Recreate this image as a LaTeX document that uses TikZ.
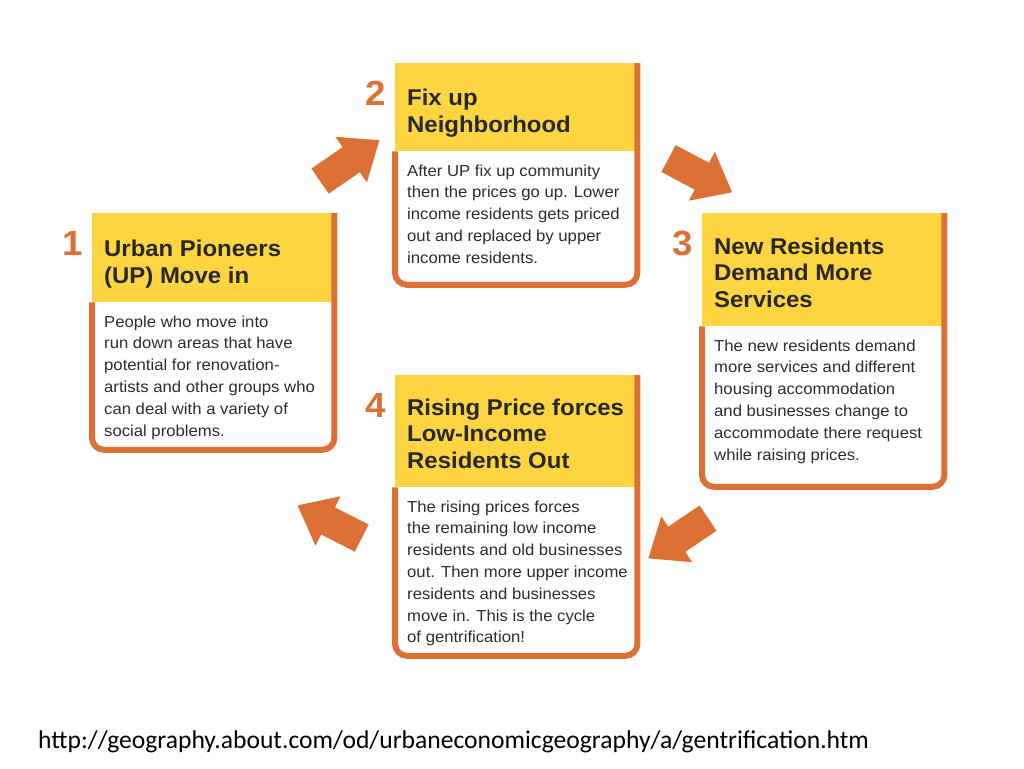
\documentclass[tikz,border=0pt]{standalone}
\usepackage{fontspec}
\setmainfont{Liberation Sans}[FakeStretch=1.05]
\newfontfamily\srcfont{Carlito}
\usepackage{tikz}
\usetikzlibrary{shapes.arrows, positioning}

\definecolor{boxorange}{RGB}{221,112,52}
\definecolor{headyellow}{RGB}{253,213,64}
\definecolor{darktext}{RGB}{40,40,40}
\definecolor{bodytext}{RGB}{45,45,45}

\begin{document}
\begin{tikzpicture}[
        x=1pt, y=-1pt,
        head/.style={
          rectangle,
          fill=headyellow,
          minimum width=242pt,
          inner sep=0pt,
          anchor=north west
        },
        body/.style={
          rectangle,
          minimum width=242pt,
          inner sep=0pt
        },
        title/.style={
          align=left,
          inner sep=0pt,
          text depth=0pt,
          text=darktext,
          font=\fontsize{22.8}{26.5}\selectfont\bfseries
        },
        desc/.style={
          align=left,
          inner sep=0pt,
          text=bodytext,
          font=\fontsize{15.9}{21.8}\selectfont
        },
        num/.style={inner sep=0pt, text=boxorange, font=\fontsize{35}{35}\selectfont\bfseries},
        frame/.style={draw=boxorange, line width=6pt, rounded corners=12pt},
        bigarrow/.style={
          single arrow,
          fill=boxorange,
          inner xsep=0pt,
          inner ysep=15pt,
          minimum height=72pt,
          single arrow head extend=12.5pt,
          single arrow tip angle=78
        }
    ]
    \useasboundingbox (0,0) rectangle (1024,768);

    % Define the boxes
    \node[head, minimum height=89pt] (h1) at (92,213) {};
    \node[body, minimum height=147pt, below=0pt of h1] (b1) {};
    \node[head, minimum height=88pt] (h2) at (395,63) {};
    \node[body, minimum height=133pt, below=0pt of h2] (b2) {};
    \node[head, minimum height=113pt] (h3) at (702,213) {};
    \node[body, minimum height=160pt, below=0pt of h3] (b3) {};
    \node[head, minimum height=112pt] (h4) at (395,375) {};
    \node[body, minimum height=168pt, below=0pt of h4] (b4) {};

    % Orange frames
    \foreach \i in {1,...,4}
      \draw[frame] (h\i.north east) -- (b\i.south east) -- (b\i.south west) -- (b\i.north west);

    % Step numbers
    \foreach \i in {1,...,4}
      \node[num, below left=18pt and 9pt of h\i.north west] (n\i) {\i};

    % Titles
    \node[title, above right=19pt and 12pt of h1.south west] (t1) {Urban Pioneers\\(UP) Move in};
    \node[title, above right=19pt and 12pt of h2.south west] (t2) {Fix up\\Neighborhood};
    \node[title, above right=19pt and 12pt of h3.south west] (t3) {New Residents\\Demand More\\Services};
    \node[title, above right=19pt and 12pt of h4.south west] (t4) {Rising Price forces\\Low-Income\\Residents Out};

    % Descriptions
    \node[desc, below right=13pt and 12pt of b1.north west] (d1) {People who move into\\run down areas that have\\potential for renovation-\\artists and other groups who\\can deal with a variety of\\social problems.};
    \node[desc, below right=13pt and 12pt of b2.north west] (d2) {After UP fix up community\\then the prices go up. Lower\\income residents gets priced\\out and replaced by upper\\income residents.};
    \node[desc, below right=13pt and 12pt of b3.north west] (d3) {The new residents demand\\more services and different\\housing accommodation\\and businesses change to\\accommodate there request\\while raising prices.};
    \node[desc, below right=13pt and 12pt of b4.north west] (d4) {The rising prices forces\\the remaining low income\\residents and old businesses\\out. Then more upper income\\residents and businesses\\move in. This is the cycle\\of gentrification!};

    % Cycle arrows
    \node[bigarrow, rotate=34.6] (a12) at (342,166) {};
    \node[bigarrow, rotate=-28] (a23) at (692,171) {};
    \node[bigarrow, rotate=214] (a34) at (686,533) {};
    \node[bigarrow, rotate=153] (a41) at (338,526) {};

    % Source
    \node[anchor=base west, inner sep=0pt, font=\srcfont\fontsize{25.6}{30}\selectfont] (src) at (38,748) {http://geography.about.com/od/urbaneconomicgeography/a/gentrification.htm};
\end{tikzpicture}
\end{document}
